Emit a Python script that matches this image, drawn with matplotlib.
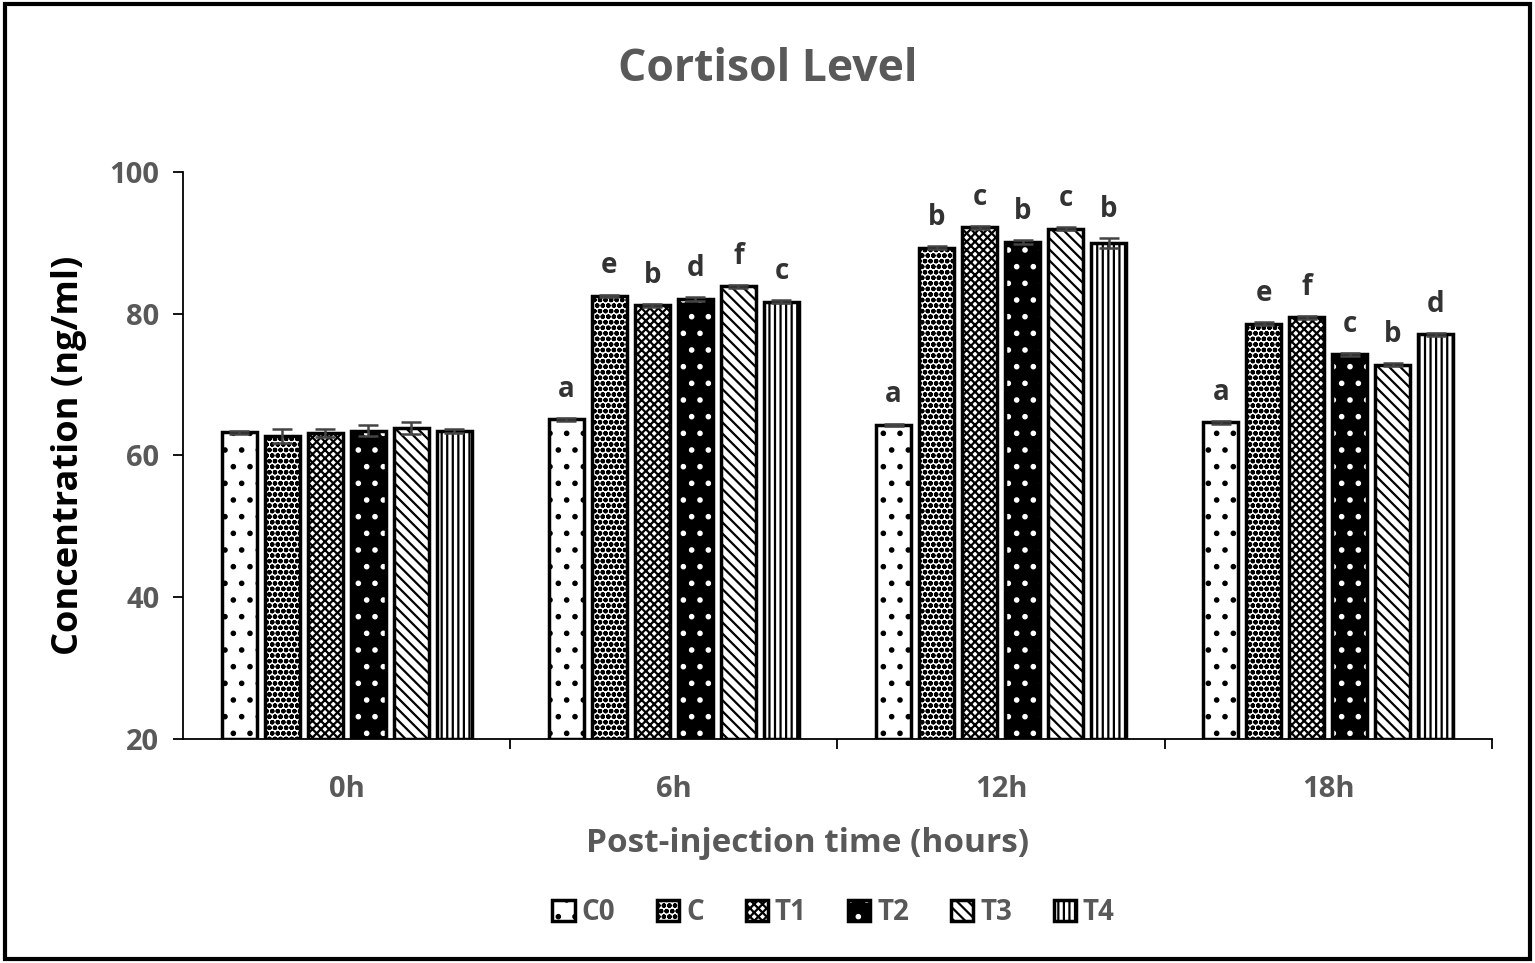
#!/usr/bin/env python3

import matplotlib.pyplot as plt
import matplotlib.patches as mpatches
import numpy as np

plt.rcParams['font.family'] = ['Open Sans', 'DejaVu Sans']
plt.rcParams['hatch.linewidth'] = 1.6

times = ['0h', '6h', '12h', '18h']
groups = ['C0', 'C', 'T1', 'T2', 'T3', 'T4']

C0 = [63.3, 65.1, 64.3, 64.7]
C = [62.8, 82.5, 89.3, 78.6]
T1 = [63.2, 81.2, 92.2, 79.5]
T2 = [63.5, 82.1, 90.1, 74.3]
T3 = [63.9, 83.9, 92.0, 72.8]
T4 = [63.5, 81.7, 90.0, 77.1]

err_C0 = [0.2, 0.2, 0.2, 0.2]
err_C = [1.0, 0.2, 0.2, 0.2]
err_T1 = [0.6, 0.2, 0.2, 0.2]
err_T2 = [0.8, 0.3, 0.3, 0.2]
err_T3 = [0.8, 0.2, 0.2, 0.2]
err_T4 = [0.3, 0.2, 0.7, 0.2]

letters_C0 = ['', 'a', 'a', 'a']
letters_C = ['', 'e', 'b', 'e']
letters_T1 = ['', 'b', 'c', 'f']
letters_T2 = ['', 'd', 'b', 'c']
letters_T3 = ['', 'f', 'c', 'b']
letters_T4 = ['', 'c', 'b', 'd']

vals = [C0, C, T1, T2, T3, T4]
errs = [err_C0, err_C, err_T1, err_T2, err_T3, err_T4]
lets = [letters_C0, letters_C, letters_T1, letters_T2, letters_T3, letters_T4]

# face, hatch, hatch colour
styles = [('white', '.', 'black'),
          ('white', 'ooo', 'black'),
          ('white', 'xxxx', 'black'),
          ('black', '.', 'white'),
          ('white', '\\\\\\', 'black'),
          ('white', '|||', 'black')]

fig = plt.figure(figsize=(15.35, 9.63), dpi=100)
ax = fig.add_axes([0.1192, 0.2326, 0.8528, 0.5888])

grey = '#595959'
x = np.arange(len(times))
w = 0.107
step = 0.1315
handles = []
for i, g in enumerate(groups):
    pos = x + (i - 2.5) * step
    fc, h, hc = styles[i]
    ax.bar(pos, np.array(vals[i]) - 20, w, bottom=20, color=fc, edgecolor=hc,
           hatch=h, linewidth=0, zorder=2)
    ax.bar(pos, np.array(vals[i]) - 20, w, bottom=20, fill=False,
           edgecolor='black', linewidth=2.5, zorder=3)
    ax.errorbar(pos, vals[i], yerr=errs[i], fmt='none', ecolor='#444444',
                elinewidth=1.8, capsize=7, capthick=1.8, zorder=4)
    for p, v, e, t in zip(pos, vals[i], errs[i], lets[i]):
        if t:
            ax.text(p, v + e + 2.0, t, ha='center', va='bottom',
                    fontsize=20, fontweight='bold', color='#333333')
    inner = mpatches.Patch(facecolor=fc, edgecolor=hc, hatch=h, linewidth=0)
    border = mpatches.Patch(fill=False, edgecolor='black', linewidth=2.5)
    handles.append((inner, border))

ax.set_xlim(-0.5, 3.5)
ax.set_ylim(20, 100)
ax.set_yticks([20, 40, 60, 80, 100])
ax.set_xticks(x)
ax.set_xticklabels(times)
ax.set_xticks([0.5, 1.5, 2.5, 3.5], minor=True)
ax.tick_params(axis='x', which='major', length=0, pad=26)
ax.tick_params(axis='x', which='minor', length=7, width=1.3, color='black')
ax.tick_params(axis='y', length=7, width=1.3, pad=10)
for lab in ax.get_xticklabels() + ax.get_yticklabels():
    lab.set_fontsize(21)
    lab.set_fontweight('bold')
    lab.set_color(grey)
for s in ['top', 'right']:
    ax.spines[s].set_visible(False)
for s in ['left', 'bottom']:
    ax.spines[s].set_linewidth(1.3)

ax.set_ylabel('Concentration (ng/ml)', fontsize=26, fontweight='bold',
              color='black', labelpad=16)
ax.set_xlabel('Post-injection time (hours)', fontsize=24, fontweight='bold',
              color=grey, labelpad=14)
ax.xaxis.set_label_coords(0.477, -0.155)
fig.text(0.5, 0.928, 'Cortisol Level', ha='center', va='center',
         fontsize=32, fontweight='bold', color=grey)

leg = fig.legend(handles, groups, loc='center', bbox_to_anchor=(0.543, 0.052),
                 ncol=6, frameon=False, handlelength=0.8, handleheight=0.8,
                 columnspacing=1.5, handletextpad=0.25,
                 prop={'size': 20, 'weight': 'bold'})
for t in leg.get_texts():
    t.set_color(grey)

fig.patches.append(mpatches.Rectangle((0.003, 0.004), 0.994, 0.992,
                                      transform=fig.transFigure, fill=False,
                                      edgecolor='black', linewidth=3))

plt.savefig('out.png', dpi=100)
